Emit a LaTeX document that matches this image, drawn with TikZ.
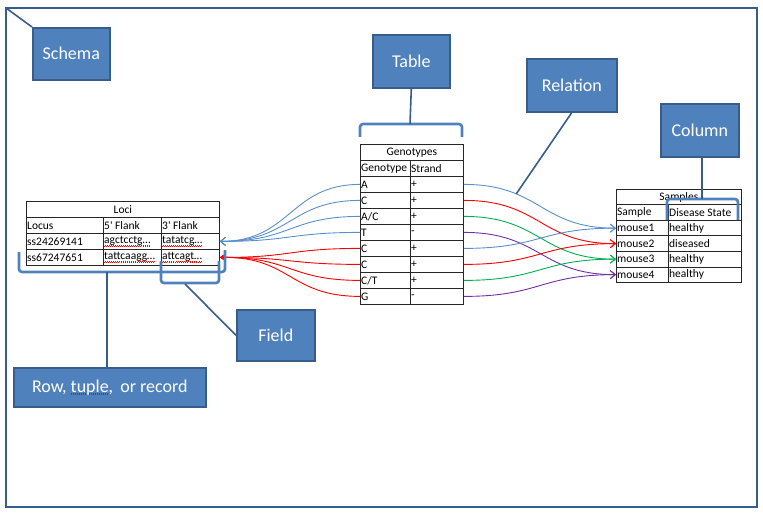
\documentclass[tikz,border=0pt]{standalone}
\usepackage{fontspec}
\setmainfont{Carlito}
\usetikzlibrary{arrows.meta,positioning,calc}
\definecolor{BoxFill}{HTML}{4F81BD}
\definecolor{BoxEdge}{HTML}{385D8A}
\definecolor{LinkBlue}{HTML}{5B8FCB}
\definecolor{LinkRed}{HTML}{FF0000}
\definecolor{LinkGreen}{HTML}{00B050}
\definecolor{LinkPurple}{HTML}{7030A0}
% red spell-check wave under a word
\newcommand\spellwave[1]{\setbox0=\hbox{#1}\rlap{\color{red}\raisebox{-2.4pt}{\hbox to \wd0{\xleaders\hbox to 2pt{\rule{0.7pt}{0.6pt}\raisebox{0.6pt}{\rule{0.7pt}{0.6pt}}\hss}\hfil}}}\box0}

\begin{document}
\begin{tikzpicture}[x=1pt,y=-1pt,
  callout/.style={draw=BoxEdge,line width=1.6pt,fill=BoxFill,text=white,font=\fontsize{18}{20}\selectfont,anchor=north west,inner sep=0pt},
  leader/.style={draw=BoxEdge,line width=1.6pt},
  brace/.style={draw=BoxFill,line width=2.6pt,rounded corners=3pt},
  tabrow/.style={draw=black!85,line width=0.8pt,anchor=north west,minimum height=16pt,inner sep=0pt,font=\fontsize{11.5}{13}\selectfont},
  cell/.style={anchor=west,inner sep=1pt,font=\fontsize{11.5}{13}\selectfont},
  link/.style={line width=0.9pt,-{Straight Barb[length=5pt,width=8pt]}}]
\useasboundingbox (0,0) rectangle (763,513);
\draw[BoxEdge,line width=2pt] (6,8) coordinate (frametl) rectangle (757,507);

% callouts
\node[callout,minimum width=77pt,minimum height=52pt] (schema) at (32,27) {Schema};
\node[callout,minimum width=77pt,minimum height=53pt] (tablebox) at (372,34) {Table};
\node[callout,minimum width=90pt,minimum height=53pt] (relbox) at (526,58) {Relation};
\node[callout,minimum width=78pt,minimum height=53pt] (colbox) at (660,103) {Column};
\node[callout,minimum width=78pt,minimum height=51pt] (fieldbox) at (236,309) {Field};
\node[callout,minimum width=192pt,minimum height=39pt] (rowbox) at (13,367) {Row, \spellwave{tuple},\, or record};

% Genotypes
\node[tabrow,minimum width=103pt] (gtitle) at (360,144) {Genotypes};
\node[tabrow,minimum width=103pt] (ghead) at (360,160) {};
\node[cell] (ghgt) at (ghead.west) {Genotype};
\node[cell] (ghst) at ($(ghead.west)+(50,0)$) {Strand};
\foreach \gt/\st [count=\i] in {A/+,C/+,{A/C}/+,T/-,C/+,C/+,{C/T}/+,G/-} {
  \node[tabrow,minimum width=103pt] (g\i) at (360,{160+16*\i}) {};
  \node[cell] (gt\i) at (g\i.west) {\gt};
  \node[cell] (st\i) at ($(g\i.west)+(50,0)$) {\st};
}
\draw[black!85,line width=0.8pt] (ghead.north west) ++(50,0) -- ($(g8.south west)+(50,0)$);

% Loci
\node[tabrow,minimum width=193pt] (ltitle) at (26,201) {Loci};
\foreach \lc/\fa/\fb [count=\i from 0] in {Locus/5\textquotesingle{} Flank/3\textquotesingle{} Flank,ss24269141/\spellwave{agctcctg…}/\spellwave{tatatcg…},ss67247651/\spellwave{tattcaagg…}/\spellwave{attcagt…}} {
  \node[tabrow,minimum width=193pt] (l\i) at (26,{217+16*\i}) {};
  \node[cell] (lc\i) at (l\i.west) {\lc};
  \node[cell] (la\i) at ($(l\i.west)+(77,0)$) {\fa};
  \node[cell] (lb\i) at ($(l\i.west)+(135,0)$) {\fb};
}
\draw[black!85,line width=0.8pt] (l0.north west) ++(77,0) -- ($(l2.south west)+(77,0)$);
\draw[black!85,line width=0.8pt] (l0.north west) ++(135,0) -- ($(l2.south west)+(135,0)$);

% Samples
\node[tabrow,minimum width=125pt,minimum height=15.5pt] (stitle) at (616,189) {Samples};
\foreach \sm/\ds [count=\i from 0] in {Sample/Disease State,mouse1/healthy,mouse2/diseased,mouse3/healthy,mouse4/healthy} {
  \node[tabrow,minimum width=125pt,minimum height=15.5pt] (s\i) at (616,{204.5+15.5*\i}) {};
  \node[cell] (sm\i) at (s\i.west) {\sm};
  \node[cell] (ds\i) at ($(s\i.west)+(52,0)$) {\ds};
}
\draw[black!85,line width=0.8pt] (s0.north west) ++(52,0) -- ($(s4.south west)+(52,0)$);

% genotype links
\foreach \i in {1,...,4}
  \draw[link,LinkBlue] (g\i.west) .. controls +(-70,0) and +(71,0) .. (l1.east);
\foreach \i in {5,...,8}
  \draw[line width=0.9pt,LinkRed,-{Triangle[length=5pt,width=6pt]}] (g\i.west) .. controls +(-70,0) and +(71,0) .. (l2.east);
\foreach \i/\j/\c in {1/1/LinkBlue,2/2/LinkRed,3/3/LinkGreen,4/4/LinkPurple,5/1/LinkBlue,6/2/LinkRed,7/3/LinkGreen,8/4/LinkPurple}
  \draw[link,\c] (g\i.east) .. controls +(77,0) and +(-76,0) .. (s\j.west);
\path (g1.east) .. controls +(77,0) and +(-76,0) .. (s1.west) coordinate[pos=0.3] (relpt);

% brackets
\draw[brace] (360,137) -- (360,124) coordinate (tabl) -- (462,124) -- (462,137);
\draw[brace] (667,220) -- (667,199) -- (738,199) -- (738,220);
\draw[brace] (19,252) -- (19,272) -- (225,272) -- (225,250);
\draw[brace] (161,261) -- (161,283) -- (219,283) -- (219,261);
\coordinate (tabbrk) at (410,124);
\coordinate (dsbrk) at (702,199);
\coordinate (rowbrk) at (107,272);
\coordinate (fieldbrk) at (185,284);

% leaders
\draw[leader] (frametl) -- (schema.north west);
\draw[leader] (tablebox.south) -- (tabbrk);
\draw[leader] (relbox.south) -- (relpt);
\draw[leader] (dsbrk |- colbox.south) -- (dsbrk);
\draw[leader] (rowbrk) -- (rowbrk |- rowbox.north);
\draw[leader] (fieldbrk) -- (fieldbox.west);
\end{tikzpicture}
\end{document}
